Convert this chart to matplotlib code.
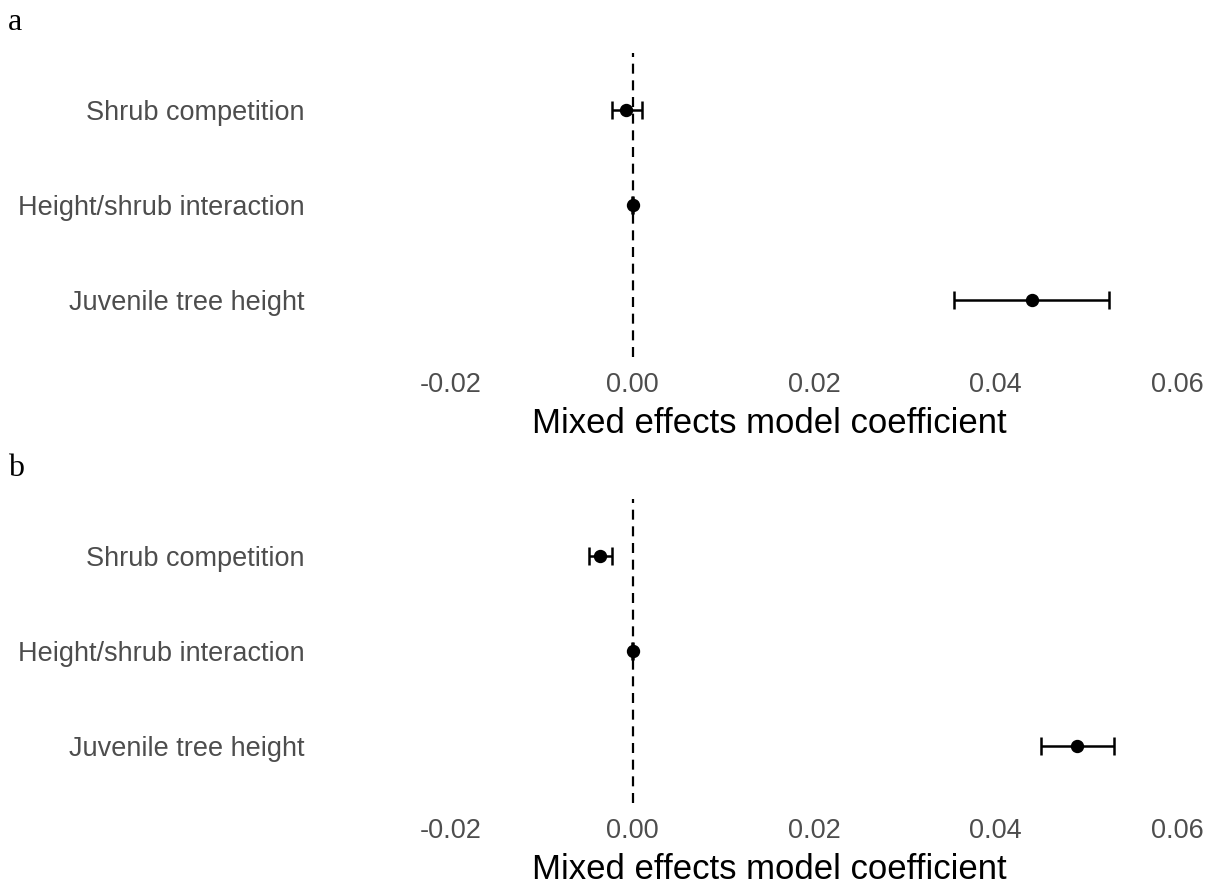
import matplotlib.pyplot as plt

# model terms, top to bottom
terms = ['Shrub competition', 'Height/shrub interaction', 'Juvenile tree height']

# panel a coefficients and 95% intervals
coef_a = [-0.00072, 0.0, 0.04402]
lo_a = [-0.00226, -0.00005, 0.03543]
hi_a = [0.00105, 0.00005, 0.05251]

# panel b coefficients and 95% intervals
coef_b = [-0.00358, 0.0, 0.04898]
lo_b = [-0.00479, -0.00005, 0.04501]
hi_b = [-0.00226, 0.00005, 0.05306]

xticks = [-0.02, 0.0, 0.02, 0.04, 0.06]
panel_tags = ['a', 'b']

W, H = 1215, 884
fig = plt.figure(figsize=(W / 100, H / 100), dpi=100)
plt.rcParams['font.family'] = ['Liberation Sans', 'DejaVu Sans']

L, R = 327, 1212
panels = [(53, 357, coef_a, lo_a, hi_a), (499, 803, coef_b, lo_b, hi_b)]
xlim = ((L - 632.5) / 9075, (R - 632.5) / 9075)

for i, (top, bot, coef, lo, hi) in enumerate(panels):
    ax = fig.add_axes([L / W, 1 - bot / H, (R - L) / W, (bot - top) / H])
    ypos = [2, 1, 0]
    xerr = [[c - l for c, l in zip(coef, lo)], [h - c for c, h in zip(coef, hi)]]
    ax.axvline(0, color='black', lw=1.6, ls=(0, (4.5, 3)), zorder=1)
    ax.errorbar(coef, ypos, xerr=xerr, fmt='o', color='black', ms=8.6,
                elinewidth=1.8, capsize=6.8, capthick=1.8, zorder=3)
    ax.set_xlim(*xlim)
    ax.set_ylim(-0.6, 2.6)
    ax.set_yticks(ypos)
    ax.set_yticklabels(terms)
    ax.set_xticks(xticks)
    ax.set_xticklabels(['%.2f' % t for t in xticks])
    ax.tick_params(length=0, labelsize=19.5, labelcolor='#4D4D4D')
    ax.tick_params(axis='y', pad=16)
    ax.tick_params(axis='x', pad=11)
    ax.set_xlabel('Mixed effects model coefficient', fontsize=25, color='black', labelpad=6)
    for s in ax.spines.values():
        s.set_visible(False)
    fig.text(8 / W, 1 - (8 + 446 * i) / H, panel_tags[i], family='Liberation Serif',
             fontsize=23, va='top', ha='left')

fig.savefig('out.png', dpi=100)
